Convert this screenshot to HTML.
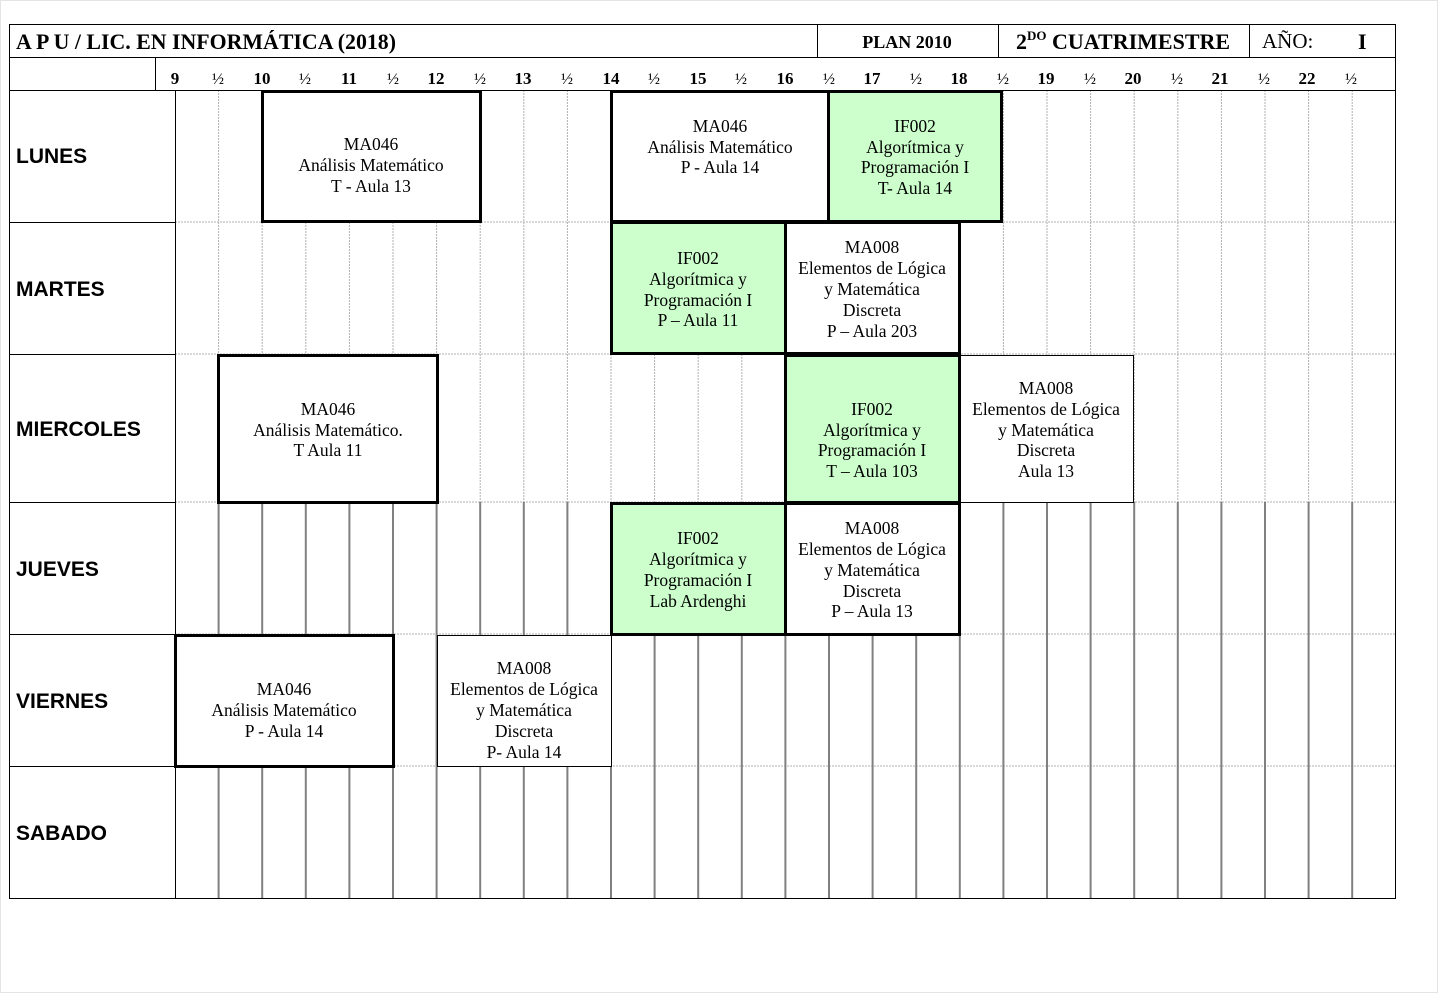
<!DOCTYPE html>
<html><head><meta charset="utf-8"><style>
html,body{margin:0;padding:0;background:#fff;}
svg{display:block;}
.s{font-family:"Liberation Serif",serif;}
.b{font-family:"Liberation Sans",sans-serif;font-weight:bold;font-size:21px;}
.t{font-family:"Liberation Serif",serif;font-size:17.5px;text-anchor:middle;}
</style></head><body>
<svg width="1441" height="995" viewBox="0 0 1441 995" xmlns="http://www.w3.org/2000/svg">
<rect x="0.5" y="0.5" width="1437" height="992" fill="#fff" stroke="#e4e4e4"/>
<g stroke="#b0b0b0" stroke-width="1" stroke-dasharray="2,1">
<path d="M218.6 90V502M262.2 90V502M305.8 90V502M349.4 90V502M393 90V502M436.6 90V502M480.2 90V502M523.8 90V502M567.4 90V502M611 90V502M654.6 90V502M698.2 90V502M741.8 90V502M785.4 90V502M829 90V502M872.6 90V502M916.2 90V502M959.8 90V502M1003.4 90V502M1047 90V502M1090.6 90V502M1134.2 90V502M1177.8 90V502M1221.4 90V502M1265 90V502M1308.6 90V502M1352.2 90V502"/>
<path d="M175 222H1396M175 354H1396M175 502H1396M175 634H1396M175 766H1396"/>
</g>
<g stroke="#808080" stroke-width="2">
<path d="M218.6 502V899M262.2 502V899M305.8 502V899M349.4 502V899M393 502V899M436.6 502V899M480.2 502V899M523.8 502V899M567.4 502V899M611 502V899M654.6 502V899M698.2 502V899M741.8 502V899M785.4 502V899M829 502V899M872.6 502V899M916.2 502V899M959.8 502V899M1003.4 502V899M1047 502V899M1090.6 502V899M1134.2 502V899M1177.8 502V899M1221.4 502V899M1265 502V899M1308.6 502V899M1352.2 502V899"/>
</g>
<g stroke="#000" stroke-width="1" fill="none">
<rect x="9.5" y="24.5" width="1386" height="874"/>
<path d="M9 57.5H1396M9 90.5H1396M817.5 24V57M998.5 24V57M1249.5 24V57M155.5 57V90M175.5 90V899"/>
<path d="M9 222.5H175M9 354.5H175M9 502.5H175M9 634.5H175M9 766.5H175"/>
</g>
<g class="s" font-weight="bold" font-size="22">
<text x="16" y="49" textLength="380" lengthAdjust="spacingAndGlyphs">A P U / LIC. EN INFORMÁTICA (2018)</text>
<text x="907" y="48" text-anchor="middle" font-size="18">PLAN 2010</text>
<text x="1016" y="49">2<tspan font-size="13" dy="-9">DO</tspan><tspan dy="9"> CUATRIMESTRE</tspan></text>
<text x="1262" y="48" font-weight="normal" font-size="21">AÑO:</text>
<text x="1358" y="49">I</text>
</g>
<g class="s" font-size="17" font-weight="bold" text-anchor="middle">
<text x="175" y="84">9</text><text x="262" y="84">10</text><text x="349" y="84">11</text><text x="436" y="84">12</text><text x="523" y="84">13</text><text x="611" y="84">14</text><text x="698" y="84">15</text><text x="785" y="84">16</text><text x="872" y="84">17</text><text x="959" y="84">18</text><text x="1046" y="84">19</text><text x="1133" y="84">20</text><text x="1220" y="84">21</text><text x="1307" y="84">22</text>
</g>
<g class="s" font-size="16" text-anchor="middle">
<text x="218" y="84">½</text><text x="305" y="84">½</text><text x="393" y="84">½</text><text x="480" y="84">½</text><text x="567" y="84">½</text><text x="654" y="84">½</text><text x="741" y="84">½</text><text x="829" y="84">½</text><text x="916" y="84">½</text><text x="1003" y="84">½</text><text x="1090" y="84">½</text><text x="1177" y="84">½</text><text x="1264" y="84">½</text><text x="1351" y="84">½</text>
</g>
<g class="b">
<text x="16" y="163">LUNES</text>
<text x="16" y="296">MARTES</text>
<text x="16" y="436">MIERCOLES</text>
<text x="16" y="576">JUEVES</text>
<text x="16" y="708">VIERNES</text>
<text x="16" y="840">SABADO</text>
</g>
<g stroke="#000" stroke-width="3">
<rect x="262.5" y="91.5" width="218" height="130" fill="#fff"/>
<rect x="611.5" y="91.5" width="217" height="130" fill="#fff"/>
<rect x="828.5" y="91.5" width="173" height="130" fill="#ccffcc"/>
<rect x="611.5" y="222.5" width="174" height="131" fill="#ccffcc"/>
<rect x="785.5" y="222.5" width="174" height="131" fill="#fff"/>
<rect x="218.5" y="355.5" width="219" height="147" fill="#fff"/>
<rect x="785.5" y="355.5" width="174" height="147" fill="#ccffcc"/>
<rect x="611.5" y="503.5" width="174" height="131" fill="#ccffcc"/>
<rect x="785.5" y="503.5" width="174" height="131" fill="#fff"/>
<rect x="175.5" y="635.5" width="218" height="131" fill="#fff"/>
</g>
<g stroke="#000" stroke-width="1" fill="#fff">
<rect x="960.5" y="355.5" width="173" height="147"/>
<rect x="437.5" y="635.5" width="174" height="131"/>
</g>
<g class="t">
<text x="371" y="150">MA046</text><text x="371" y="171">Análisis Matemático</text><text x="371" y="192">T - Aula 13</text>
<text x="720" y="132">MA046</text><text x="720" y="153">Análisis Matemático</text><text x="720" y="173">P - Aula 14</text>
<text x="915" y="132">IF002</text><text x="915" y="153">Algorítmica y</text><text x="915" y="173">Programación I</text><text x="915" y="194">T- Aula 14</text>
<text x="698" y="264">IF002</text><text x="698" y="285">Algorítmica y</text><text x="698" y="306">Programación I</text><text x="698" y="326">P – Aula 11</text>
<text x="872" y="253">MA008</text><text x="872" y="274">Elementos de Lógica</text><text x="872" y="295">y Matemática</text><text x="872" y="316">Discreta</text><text x="872" y="337">P – Aula 203</text>
<text x="328" y="415">MA046</text><text x="328" y="436">Análisis Matemático.</text><text x="328" y="456">T Aula 11</text>
<text x="872" y="415">IF002</text><text x="872" y="436">Algorítmica y</text><text x="872" y="456">Programación I</text><text x="872" y="477">T – Aula 103</text>
<text x="1046" y="394">MA008</text><text x="1046" y="415">Elementos de Lógica</text><text x="1046" y="436">y Matemática</text><text x="1046" y="456">Discreta</text><text x="1046" y="477">Aula 13</text>
<text x="698" y="544">IF002</text><text x="698" y="565">Algorítmica y</text><text x="698" y="586">Programación I</text><text x="698" y="607">Lab Ardenghi</text>
<text x="872" y="534">MA008</text><text x="872" y="555">Elementos de Lógica</text><text x="872" y="576">y Matemática</text><text x="872" y="597">Discreta</text><text x="872" y="617">P – Aula  13</text>
<text x="284" y="695">MA046</text><text x="284" y="716">Análisis Matemático</text><text x="284" y="737">P - Aula 14</text>
<text x="524" y="674">MA008</text><text x="524" y="695">Elementos de Lógica</text><text x="524" y="716">y Matemática</text><text x="524" y="737">Discreta</text><text x="524" y="758">P-  Aula 14</text>
</g>
</svg>
</body></html>
